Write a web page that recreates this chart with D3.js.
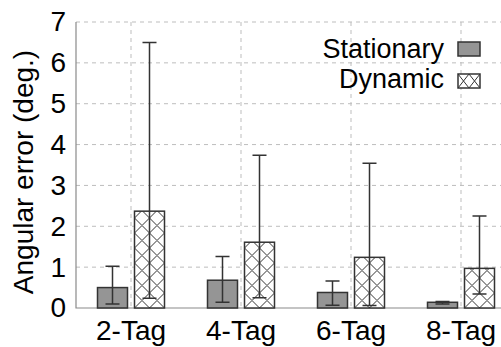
<!DOCTYPE html>
<html>
<head>
<meta charset="utf-8">
<script src="https://cdn.jsdelivr.net/npm/d3@7"></script>
<style>
  html, body { margin: 0; padding: 0; background: #fff; }
  svg { display: block; font-family: "Liberation Sans", Arial, Helvetica, sans-serif; }
</style>
</head>
<body>
<svg id="chart" width="501" height="347"></svg>
<script>
// Angular error per tag count, mean with min/max error bars
const categories = ["2-Tag", "4-Tag", "6-Tag", "8-Tag"];
const seriesNames = ["Stationary", "Dynamic"];

const stationaryMean = [0.50, 0.68, 0.38, 0.14];
const stationaryLow  = [0.10, 0.14, 0.07, 0.10];
const stationaryHigh = [1.02, 1.26, 0.66, 0.16];

const dynamicMean = [2.37, 1.61, 1.24, 0.97];
const dynamicLow  = [0.24, 0.25, 0.06, 0.34];
const dynamicHigh = [6.50, 3.74, 3.54, 2.25];

const yTicks = [0, 1, 2, 3, 4, 5, 6, 7];

const rows = [];
categories.forEach((c, i) => {
  rows.push({ cat: c, series: "Stationary", mean: stationaryMean[i], low: stationaryLow[i], high: stationaryHigh[i] });
  rows.push({ cat: c, series: "Dynamic", mean: dynamicMean[i], low: dynamicLow[i], high: dynamicHigh[i] });
});

const svg = d3.select("#chart");
const plot = { left: 76, right: 516, top: 22, bottom: 308 };

const x = d3.scaleBand().domain(categories).range([plot.left, plot.right]).padding(0);
const xs = d3.scaleBand().domain(seriesNames).range([-33.5, 33.5]).paddingInner(7 / 37).paddingOuter(0);
const y = d3.scaleLinear().domain([0, 7]).range([plot.bottom, plot.top]);

const ink = "#333";

// crosshatch for the Dynamic bars
const defs = svg.append("defs");
const pat = defs.append("pattern")
  .attr("id", "xhatch")
  .attr("patternUnits", "userSpaceOnUse")
  .attr("width", 15).attr("height", 15);
pat.append("rect").attr("width", 15).attr("height", 15).attr("fill", "#fff");
pat.append("path")
  .attr("d", "M0,0L15,15M15,0L0,15M-1,14L1,16M14,-1L16,1M-1,1L1,-1M14,16L16,14")
  .attr("stroke", ink).attr("stroke-width", 1).attr("fill", "none");

const legPat = defs.append("pattern")
  .attr("id", "xhatchLeg")
  .attr("patternUnits", "userSpaceOnUse")
  .attr("width", 11).attr("height", 14);
legPat.append("rect").attr("width", 11).attr("height", 14).attr("fill", "#fff");
legPat.append("path")
  .attr("d", "M0,0L11,14M11,0L0,14")
  .attr("stroke", ink).attr("stroke-width", 1).attr("fill", "none");

// dashed grid
const grid = svg.append("g").attr("stroke", "#bdbdbd").attr("stroke-width", 1).attr("stroke-dasharray", "4,4");
grid.selectAll("line.h").data(yTicks.filter(t => t > 0)).join("line")
  .attr("x1", plot.left).attr("x2", plot.right)
  .attr("y1", d => y(d)).attr("y2", d => y(d));
grid.selectAll("line.v").data(categories).join("line")
  .attr("x1", d => x(d) + x.bandwidth() / 2).attr("x2", d => x(d) + x.bandwidth() / 2)
  .attr("y1", plot.top).attr("y2", plot.bottom);

// plot frame (left and bottom)
svg.append("path")
  .attr("d", `M${plot.left},${plot.top}V${plot.bottom}H${plot.right}`)
  .attr("fill", "none").attr("stroke", "#8a8a8a").attr("stroke-width", 1.2);

// bars
const bars = svg.append("g").selectAll("g").data(rows).join("g")
  .attr("transform", d => `translate(${x(d.cat) + x.bandwidth() / 2 + xs(d.series)},${y(0)})`);
bars.append("rect")
  .attr("x", 0).attr("width", xs.bandwidth())
  .attr("y", d => y(d.mean) - y(0))
  .attr("height", d => y(0) - y(d.mean))
  .attr("fill", d => d.series === "Stationary" ? "#959595" : "url(#xhatch)")
  .attr("stroke", ink).attr("stroke-width", 1.5);

// error bars
const cap = 7;
const eb = svg.append("g").attr("stroke", ink).attr("stroke-width", 1.5).attr("fill", "none");
eb.selectAll("path").data(rows).join("path")
  .attr("d", d => {
    const cx = x(d.cat) + x.bandwidth() / 2 + xs(d.series) + xs.bandwidth() / 2;
    const yl = y(d.low), yh = y(d.high);
    return `M${cx},${yl}V${yh}M${cx - cap},${yh}H${cx + cap}M${cx - cap},${yl}H${cx + cap}`;
  });

// axes labels
const yAxis = d3.axisLeft(y).tickValues(yTicks).tickSize(0).tickPadding(10).tickFormat(d3.format("d"));
const gy = svg.append("g").attr("transform", `translate(${plot.left},0)`).call(yAxis);
gy.select(".domain").remove();
gy.selectAll("text").attr("font-size", 28).attr("fill", "#000").attr("font-family", "Liberation Sans, Arial, sans-serif");

const xAxis = d3.axisBottom(x).tickSize(0).tickPadding(12);
const gx = svg.append("g").attr("transform", `translate(0,${plot.bottom})`).call(xAxis);
gx.select(".domain").remove();
gx.selectAll("text").attr("font-size", 28).attr("fill", "#000").attr("font-family", "Liberation Sans, Arial, sans-serif");

svg.append("text")
  .attr("transform", "translate(33,172) rotate(-90)")
  .attr("text-anchor", "middle")
  .attr("font-size", 28)
  .text("Angular error (deg.)");

// legend
const legend = svg.append("g");
const legRows = [
  { name: "Stationary", fill: "#959595", base: 58, boxY: 42 },
  { name: "Dynamic", fill: "url(#xhatchLeg)", base: 88, boxY: 74 }
];
legend.selectAll("text").data(legRows).join("text")
  .attr("x", 444).attr("y", d => d.base)
  .attr("text-anchor", "end").attr("font-size", 27)
  .text(d => d.name);
legend.selectAll("g").data(legRows).join("g")
  .attr("transform", d => `translate(458,${d.boxY})`)
  .append("rect")
  .attr("width", 22).attr("height", 14)
  .attr("fill", d => d.fill)
  .attr("stroke", ink).attr("stroke-width", 1.5);
</script>
</body>
</html>
